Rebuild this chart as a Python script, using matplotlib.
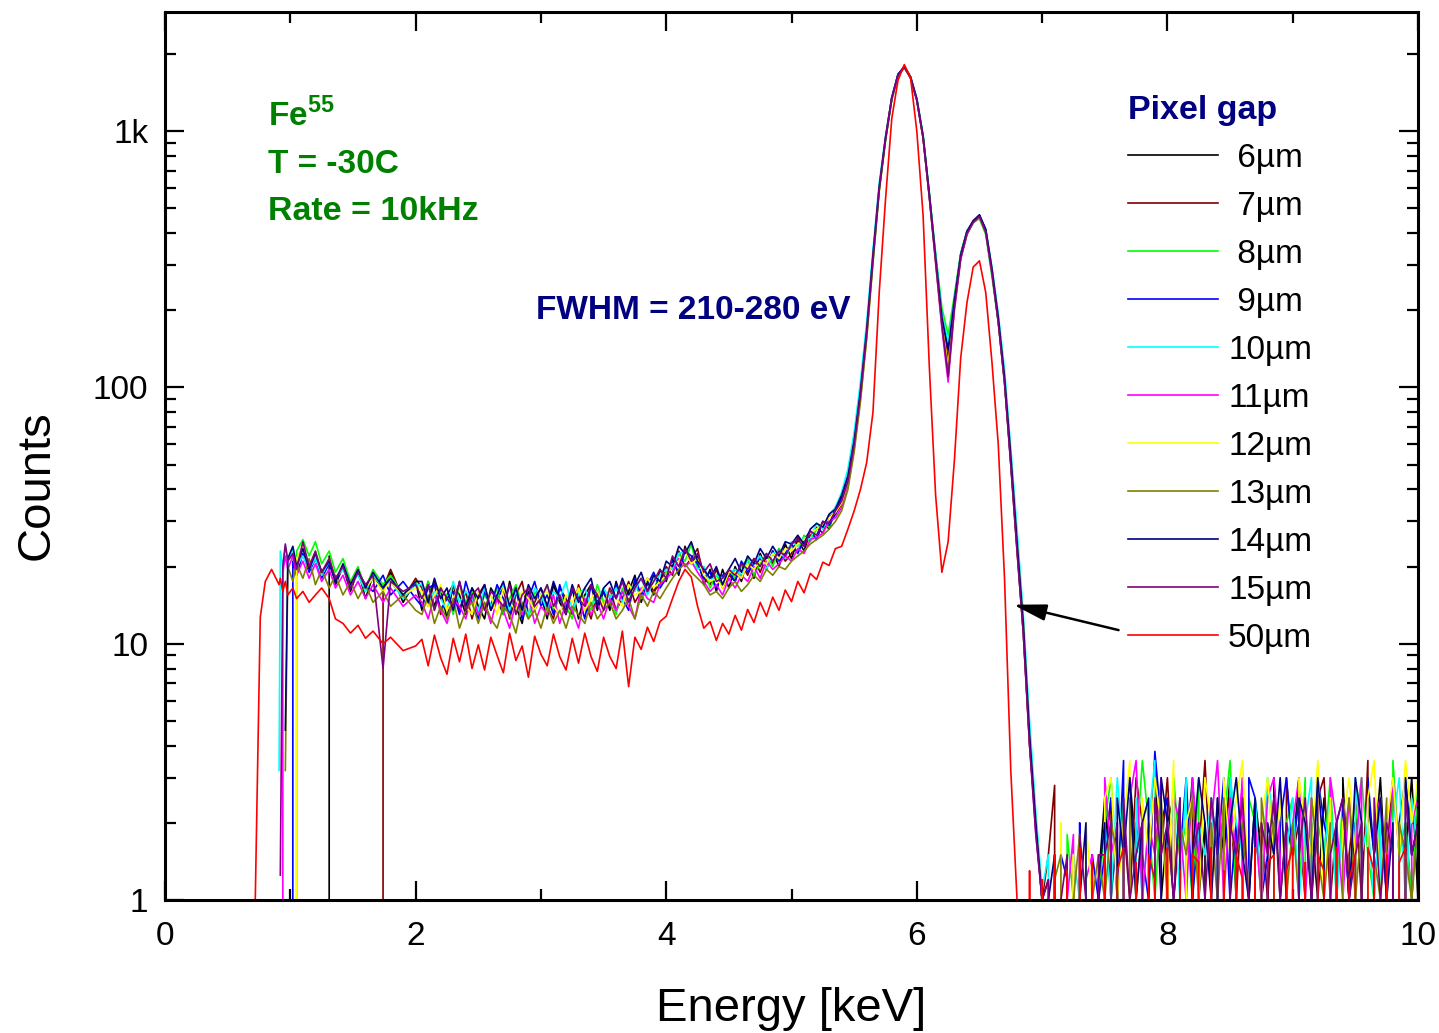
import numpy as np
import matplotlib
matplotlib.use("Agg")
import matplotlib.pyplot as plt
from matplotlib import ticker

nan = float("nan")

# energy channels (keV), denser where the spectra change quickly
energy_kev = [
    0.70, 0.72, 0.76, 0.80, 0.85, 0.91, 0.92, 0.94, 0.96, 0.98,
    1.02, 1.05, 1.10, 1.15, 1.20, 1.25, 1.31, 1.36, 1.42, 1.48,
    1.54, 1.60, 1.66, 1.74, 1.80, 1.90, 2.00,
    2.05, 2.10, 2.15, 2.20, 2.25, 2.30, 2.35, 2.40, 2.45, 2.50,
    2.55, 2.60, 2.65, 2.70, 2.75, 2.80, 2.85, 2.90, 2.95, 3.00,
    3.05, 3.10, 3.15, 3.20, 3.25, 3.30, 3.35, 3.40, 3.45, 3.50,
    3.55, 3.60, 3.65, 3.70, 3.75, 3.80, 3.85, 3.90, 3.95, 4.00,
    4.05, 4.10, 4.15, 4.20, 4.25, 4.30, 4.35, 4.40, 4.45, 4.50,
    4.55, 4.60, 4.65, 4.70, 4.75, 4.80, 4.85, 4.90, 4.95, 5.00,
    5.05, 5.10, 5.15, 5.20, 5.25, 5.30, 5.35, 5.40,
    5.45, 5.50, 5.55, 5.60, 5.65, 5.70, 5.75, 5.80, 5.85, 5.90,
    5.95, 6.00, 6.05, 6.10, 6.15, 6.20, 6.25, 6.30, 6.35, 6.40,
    6.45, 6.50, 6.55, 6.60, 6.65, 6.70, 6.75, 6.80, 6.85, 6.90,
    6.95, 7.00,
    7.05, 7.10, 7.15, 7.20, 7.25, 7.30, 7.35, 7.40, 7.45,
    7.50, 7.55, 7.60, 7.65, 7.70, 7.75, 7.80, 7.85, 7.90, 7.95,
    8.00, 8.05, 8.10, 8.15, 8.20, 8.25, 8.30, 8.35, 8.40, 8.45,
    8.50, 8.55, 8.60, 8.65, 8.70, 8.75, 8.80, 8.85, 8.90, 8.95,
    9.00, 9.05, 9.10, 9.15, 9.20, 9.25, 9.30, 9.35, 9.40, 9.45,
    9.50, 9.55, 9.60, 9.65, 9.70, 9.75, 9.80, 9.85, 9.90, 9.95,
    10.00,
]

gap_6um = [
    0, 0, 0, 0, 0, 0, 0, 0, 0, 0,
    0, 0, 0, 0, 0, 0, 22, 17, 20, 16,
    19.5, 15, 18.5, 16, 19, 14.5, 17.5,
    13.5, 17.5, 14, 16.5, 12.5, 17, 15.5, 13, 16.5, 14,
    12.5, 16.5, 15, 13, 17.5, 14, 12, 16, 13.5, 15.5,
    12.5, 17, 14.5, 13, 16.5, 12.5, 15.5, 17, 13.5, 16,
    13.5, 17.5, 14.5, 16, 18.5, 14.5, 17.5, 15.5, 19.5, 17.5,
    21.5, 18.5, 24, 20.5, 22, 17, 19.5, 16, 19.5, 16.5,
    20, 17.5, 21.5, 18, 22.5, 19.5, 23, 20, 24.5, 21.5,
    25.5, 23, 27.5, 25.5, 30, 28, 34, 37,
    44, 61, 96, 168, 325, 600, 930, 1340, 1660, 1790,
    1630, 1330, 950, 560, 320, 185, 125, 215, 325, 400,
    440, 470, 410, 285, 185, 108, 52, 24, 11.5, 4.2,
    1.9, 1.0,
    1.2, 0, 1.5, 0, 1.3, 0, 1.8, 0, 1.2,
    2.5, 1, 2, 0, 3, 1.5, 2, 0, 3.5, 1,
    2, 2.5, 0, 1.5, 3, 1, 2, 0, 2.5, 1.5,
    3, 0, 2, 1, 2.5, 1.5, 0, 3, 1, 2,
    1.5, 3, 0, 2, 1, 2.5, 1.5, 0, 3, 1,
    2, 0, 2.5, 1.5, 3, 1, 0, 2, 1.5, 3,
    1,
]

gap_7um = [
    0, 0, 0, 0, 0, 0, 0, 0, 0, 0,
    0, 0, 0, 0, 0, 0, 0, 0, 0, 0,
    0, 0, 0, 16.5, 19.5, 15, 18,
    16.5, 14, 17.5, 13, 15.5, 17, 13.5, 16, 12.5, 15.5,
    17, 13.5, 15, 16.5, 12.5, 15.5, 17.5, 13, 14.5, 16.5,
    14, 12.5, 16.5, 15, 13, 17, 14.5, 12.5, 16, 14,
    16.5, 13.5, 15, 17.5, 14.5, 16, 18, 16, 17, 20,
    18.5, 23, 20, 21.5, 23.5, 18, 17, 19.5, 16.5, 18.5,
    17.5, 20.5, 18.5, 21.5, 19, 22, 20.5, 23.5, 21, 22.5,
    26, 24, 26.5, 28.5, 27, 31.5, 32, 35,
    42, 59, 93, 162, 318, 590, 925, 1330, 1650, 1770,
    1610, 1320, 940, 555, 315, 180, 130, 210, 320, 395,
    445, 462, 405, 280, 180, 105, 50, 23, 11, 4.0,
    2.0, 1.0,
    1.5, 2.8, 0, 1.5, 0, 1.2, 0, 1.5, 0,
    1.5, 2.5, 0, 2, 1, 3, 2, 0, 2.5, 1.5,
    3, 1, 2, 0, 2.5, 1.5, 3.5, 1, 0, 2,
    2.5, 1, 3, 0, 1.5, 2, 1, 2.5, 0, 3,
    1.5, 2, 1, 0, 2.5, 3, 1, 2, 0, 1.5,
    2.5, 1, 3.5, 0, 2, 1.5, 3, 0, 2, 1,
    2.5,
]

gap_8um = [
    0, 0, 0, 0, 0, 0, 0, 0, 0, 0,
    0, 23, 25.5, 22, 25, 20.5, 23, 19, 21.5, 17.5,
    20, 16.5, 19.5, 17, 18.5, 15.5, 17.5,
    15, 17.5, 13.5, 16, 15.5, 13, 17, 14.5, 16, 13,
    15.5, 14, 16.5, 13, 15, 17, 14, 12.5, 16, 14.5,
    17, 13.5, 15.5, 14, 12.5, 16.5, 15, 13.5, 17, 14.5,
    15.5, 13, 16.5, 14.5, 17.5, 15, 16, 18.5, 16.5, 19,
    20, 22.5, 21, 24.5, 19.5, 20, 16.5, 18.5, 17, 19.5,
    18, 20, 21.5, 18.5, 20.5, 22.5, 20, 23.5, 22, 24,
    23, 26.5, 25, 28, 29.5, 28.5, 33, 35.5,
    41, 58, 90, 158, 310, 585, 915, 1320, 1640, 1770,
    1625, 1340, 965, 575, 335, 205, 160, 230, 335, 410,
    440, 455, 395, 270, 180, 105, 52, 24, 11, 4.3,
    1.9, 1.0,
    0, 1.2, 0, 1.8, 1.0, 0, 1.5, 0, 1.0,
    2, 3, 1, 2.5, 0, 1.5, 3.5, 2, 1, 2.5,
    0, 3, 1.5, 2, 1, 3, 0, 2.5, 1.5, 2,
    3.5, 1, 0, 2.5, 2, 1, 3, 1.5, 0, 2,
    2.5, 1, 3, 0, 2, 1.5, 3, 1, 2.5, 0,
    2, 3, 1.5, 1, 2.5, 0, 3.5, 1.5, 2, 1,
    3,
]

gap_9um = [
    0, 0, 0, 0, 0, 0, 0, 0, 0, 0,
    21, 18.5, 22.5, 19, 21.5, 18, 20.5, 17.5, 20, 16.5,
    19, 17, 16, 18.5, 15.5, 17.5, 15,
    14, 16.5, 17, 13.5, 15, 16, 13, 17.5, 14.5, 12.5,
    16, 14, 17, 15, 13, 16.5, 12.5, 15, 17.5, 14,
    15.5, 13, 17, 14, 16, 15.5, 12.5, 17, 14.5, 16,
    14, 17, 15, 13.5, 18, 15.5, 17, 19, 16.5, 18,
    21, 19, 23, 22, 20.5, 18, 19, 16.5, 18.5, 19,
    17.5, 21, 19, 20.5, 21.5, 19.5, 23, 21, 22.5, 24.5,
    22.5, 25.5, 27.5, 25.5, 30, 29, 32, 38,
    45, 62, 97, 170, 330, 610, 940, 1350, 1670, 1780,
    1620, 1330, 955, 565, 325, 190, 145, 220, 330, 405,
    445, 468, 412, 288, 188, 110, 54, 25, 12, 4.4,
    2.0, 1.0,
    1.0, 0, 1.5, 1.2, 0, 2.0, 0, 1.5, 1.0,
    1.5, 2.5, 1, 3.5, 0, 2, 1.5, 1, 3.8, 2,
    2.5, 0, 1.5, 3, 1, 2, 0, 2.5, 1.5, 3,
    1, 2, 0, 3, 2.5, 1, 1.5, 0, 2, 3,
    1.5, 2.5, 0, 1, 3, 2, 1.5, 0, 2.5, 1,
    2, 0, 3, 1.5, 2.5, 1, 0, 2, 3, 1.5,
    2,
]

gap_10um = [
    nan, nan, nan, nan, nan, 3.2, 23, 20, 24, 21,
    23.5, 20, 22, 19.5, 21.5, 18.5, 21, 18, 19.5, 17,
    18.5, 16, 18.5, 16.5, 17.5, 15, 17,
    17, 14.5, 16, 15, 13.5, 17.5, 14.5, 16, 15, 13.5,
    16.5, 14, 15.5, 17, 13.5, 16, 14.5, 13, 16.5, 15.5,
    13.5, 16, 15, 17.5, 13.5, 15.5, 16.5, 14, 15, 16.5,
    15, 16.5, 14.5, 17, 16, 18, 15.5, 17.5, 18.5, 19.5,
    19.5, 22.5, 23, 21, 19.5, 20, 17.5, 18.5, 18, 19,
    19.5, 18.5, 21, 20.5, 22, 19.5, 22.5, 23, 21.5, 25,
    24, 26, 25.5, 29.5, 28, 32, 34, 39,
    48, 67, 105, 180, 345, 630, 960, 1360, 1660, 1770,
    1630, 1350, 970, 570, 330, 192, 150, 218, 325, 400,
    438, 460, 415, 295, 195, 118, 58, 28, 13, 5.0,
    2.2, 1.1,
    1.5, 0, 1.0, 0, 1.5, 1.0, 0, 1.3, 0,
    2, 1, 3, 1.5, 0, 2.5, 1, 2, 3.5, 0,
    1.5, 2.5, 1, 3, 0, 2, 1.5, 2.5, 1, 0,
    3, 2, 1.5, 0, 2.5, 1, 3, 2, 0, 1.5,
    2.5, 1, 2, 3, 0, 1.5, 2.5, 1, 2, 0,
    3, 1.5, 2, 1, 2.5, 0, 2, 3, 1, 2.5,
    1.5,
]

gap_11um = [
    0, 0, 0, 0, 0, 0, 0, 19, 22, 19.5,
    22, 18.5, 21, 18, 20.5, 17.5, 19.5, 16.5, 18.5, 15.5,
    17.5, 15, 17, 14.5, 16.5, 14, 15.5,
    14.5, 12.5, 15.5, 13.5, 12, 15, 14, 12.5, 15.5, 13,
    14.5, 12, 15, 13.5, 11.5, 14.5, 13, 15.5, 12, 14,
    13, 15.5, 12, 14.5, 13.5, 11.5, 15, 13, 14.5, 12.5,
    15, 13.5, 16, 14, 12.5, 16.5, 15, 14.5, 17, 18,
    19, 21.5, 20, 21, 19, 17.5, 16, 17, 15.5, 18,
    16.5, 18.5, 17.5, 20, 18, 21, 19.5, 20.5, 22, 21,
    23.5, 22.5, 25.5, 26, 27, 30, 31, 34,
    42, 58, 92, 160, 315, 595, 935, 1345, 1655, 1780,
    1615, 1320, 945, 550, 305, 170, 105, 200, 315, 395,
    440, 462, 402, 278, 182, 106, 51, 24, 11, 4.1,
    1.8, 1.0,
    0, 1.5, 0, 1.0, 1.8, 0, 1.2, 1.5, 0,
    3, 1.5, 2, 0, 2.5, 3.5, 1, 2, 1.5, 3,
    0, 2.5, 2, 1, 3, 1.5, 0, 2, 3.5, 1,
    2.5, 1.5, 3, 0, 2, 1, 2.5, 3, 1.5, 0,
    2, 3, 1, 2.5, 1.5, 0, 3, 2, 1, 2.5,
    1.5, 3, 0, 2, 2.5, 1, 3, 1.5, 0, 2,
    2.5,
]

gap_12um = [
    0, 0, 0, 0, 0, 0, 0, 0, 0, 0,
    0, 21.5, 24, 20, 23, 19, 21.5, 18, 20, 17,
    19.5, 16.5, 18, 16, 17.5, 15.5, 16.5,
    16, 14, 15.5, 17, 13.5, 15, 16.5, 14, 13, 16,
    14, 15.5, 13, 16.5, 14.5, 13.5, 16, 15, 13.5, 15.5,
    16, 14, 13, 15.5, 14.5, 16.5, 13.5, 15, 16, 14,
    16.5, 15, 14, 17, 15.5, 16, 18, 16.5, 17.5, 18.5,
    20.5, 21, 23, 20.5, 21.5, 18.5, 17.5, 18, 16.5, 19,
    19, 18, 20.5, 19.5, 21, 20.5, 22.5, 21.5, 23.5, 23,
    24.5, 25.5, 27, 28, 29, 31, 32.5, 35.5,
    43, 60, 94, 164, 320, 598, 935, 1345, 1650, 1775,
    1625, 1330, 950, 560, 315, 180, 120, 212, 325, 402,
    442, 466, 408, 286, 186, 109, 53, 25, 12, 4.3,
    2.0, 1.0,
    1.0, 0, 2.0, 0, 1.5, 0, 2.0, 1.0, 0,
    2.5, 3, 1, 2, 3.5, 0, 2.5, 1.5, 3, 2,
    1, 3.5, 0, 2, 2.5, 1, 3, 2, 0, 3,
    1.5, 2.5, 3.5, 1, 0, 2, 3, 1.5, 2.5, 1,
    0, 3, 2, 1.5, 3.5, 1, 2.5, 0, 2, 3,
    1.5, 0, 2.5, 3.5, 1, 2, 3, 1.5, 3.5, 2,
    3,
]

gap_13um = [
    nan, nan, nan, nan, nan, nan, nan, nan, 3.2, 20,
    17.5, 20.5, 18, 21.5, 17, 19.5, 16.5, 18.5, 15.5, 17.5,
    15, 17, 14.5, 16, 14, 15.5, 13.5,
    13, 15.5, 12, 14, 12.5, 15, 11.5, 13.5, 14.5, 12,
    14.5, 12.5, 11.5, 14, 13, 11, 14.5, 12.5, 13.5, 11.5,
    14, 12, 13.5, 11.5, 14, 13, 12, 14.5, 12.5, 13.5,
    14.5, 12.5, 13.5, 15, 12.5, 15.5, 14, 16, 15, 16.5,
    18, 19.5, 20.5, 19, 18, 17, 15.5, 16, 15, 16.5,
    17.5, 16, 17, 18.5, 17.5, 19.5, 18.5, 20, 19.5, 21,
    22, 23, 24.5, 25.5, 26.5, 28, 30, 33,
    40, 56, 88, 155, 305, 585, 925, 1335, 1650, 1775,
    1620, 1325, 945, 555, 310, 175, 115, 205, 320, 398,
    440, 463, 405, 282, 182, 107, 52, 24, 11.5, 4.2,
    1.9, 1.0,
    0, 1.2, 1.5, 0, 1.0, 1.8, 0, 1.0, 1.5,
    1, 2, 1.5, 0, 2.5, 1, 2, 0, 1.5, 2.5,
    1, 0, 2, 1.5, 2.5, 1, 0, 2, 1, 2.5,
    0, 1.5, 2, 1, 0, 2.5, 1.5, 2, 0, 1,
    2, 1, 0, 2.5, 1.5, 1, 2, 0, 1.5, 2.5,
    1, 2, 0, 1.5, 1, 2.5, 0, 2, 1.5, 1,
    2,
]

gap_14um = [
    nan, nan, nan, nan, nan, nan, nan, nan, 4.6, 21.5,
    24, 20, 23.5, 19.5, 22.5, 19, 21, 17.5, 20.5, 17,
    19.5, 16.5, 19, 16.5, 18, 15.5, 17.5,
    17.5, 14.5, 18, 15, 16.5, 13.5, 17.5, 14, 16.5, 15,
    17, 13.5, 15.5, 17.5, 14, 16.5, 13.5, 17, 15, 16.5,
    14, 17.5, 15, 13.5, 17, 14.5, 16.5, 18, 14, 16.5,
    17.5, 15, 18, 15.5, 17, 19, 16, 18.5, 17.5, 21,
    20, 24, 22.5, 25, 21, 19.5, 18, 20, 17, 19.5,
    21.5, 19, 22, 20.5, 23.5, 21.5, 24, 22, 25, 24.5,
    26.5, 24.5, 28, 29.5, 28.5, 32, 33.5, 38,
    45, 62, 97, 168, 328, 605, 940, 1350, 1665, 1785,
    1630, 1335, 955, 568, 322, 188, 140, 218, 328, 406,
    448, 472, 415, 290, 188, 110, 54, 25, 12, 4.4,
    2.0, 1.0,
    1.0, 1.5, 0, 1.2, 0, 1.0, 2.0, 0, 1.2,
    2, 0, 2.5, 1.5, 3, 1, 2, 2.5, 0, 3,
    2, 1, 2.5, 0, 1.5, 3, 2, 1, 2.5, 0,
    2, 3, 1.5, 1, 2.5, 0, 2, 1.5, 3, 1,
    0, 2.5, 2, 1, 3, 1.5, 0, 2, 2.5, 1,
    3, 2, 0, 1.5, 2.5, 1, 2, 0, 3, 1.5,
    2,
]

gap_15um = [
    nan, nan, nan, nan, nan, nan, 1.25, 20, 24.5, 21,
    22.5, 19.5, 25, 20, 23, 19, 21.5, 18, 20, 16.5,
    19, 17, 18.5, 8, 17.5, 16, 17,
    15, 17, 13.5, 16.5, 15, 14, 17.5, 13.5, 15.5, 16.5,
    13.5, 16, 15, 14, 17, 13, 15.5, 16.5, 14, 15,
    17, 14, 15.5, 13, 16.5, 15, 14, 17, 15.5, 13.5,
    16.5, 15, 17.5, 14.5, 16.5, 18, 16, 17.5, 19.5, 18,
    22, 20, 23.5, 21, 22.5, 19, 20.5, 17.5, 18, 19.5,
    18.5, 20.5, 19.5, 21.5, 20, 22.5, 21, 23, 22, 24.5,
    25.5, 24, 27.5, 26.5, 30, 29.5, 33, 36,
    43, 60, 94, 163, 320, 598, 935, 1345, 1655, 1780,
    1620, 1325, 948, 558, 312, 176, 110, 205, 320, 400,
    442, 465, 405, 280, 180, 104, 50, 23, 11, 4.0,
    1.8, 1.0,
    1.2, 0, 1.0, 1.5, 0, 1.8, 1.0, 0, 1.5,
    1.5, 2, 0, 2.5, 1, 1.5, 2, 0, 2.5, 1.5,
    2, 1, 2.5, 0, 1.5, 2, 1, 2.5, 1.5, 0,
    2, 1.5, 2.5, 1, 0, 2, 1.5, 2.5, 1, 2,
    0, 1.5, 2.5, 1, 2, 0, 1.5, 2, 2.5, 1,
    1.5, 2, 0, 2.5, 1, 2, 1.5, 0, 2.5, 1.5,
    2,
]

gap_50um = [
    0, 1.0, 12.7, 17.5, 19.5, 17, 18, 16, 17.5, 15.5,
    16.5, 15, 16, 14.5, 15.5, 16.5, 15, 12.5, 12, 11,
    11.8, 10.5, 11.2, 10, 10.6, 9.4, 9.8,
    10.4, 8.2, 10.8, 8.8, 7.6, 10.5, 8.5, 10.9, 8.0, 9.9,
    7.9, 10.6, 9.0, 7.7, 11.0, 8.6, 9.8, 7.4, 10.7, 9.1,
    8.2, 10.9, 8.9, 7.9, 10.5, 8.4, 11.0, 8.9, 7.8, 10.6,
    8.9, 8.0, 11.2, 6.8, 10.6, 9.5, 11.6, 10.2, 12.2, 12.8,
    15.0, 17.5, 19.5, 18.2, 14.0, 11.5, 12.2, 10.3, 12.0, 10.9,
    12.9, 11.3, 13.6, 12.1, 14.5, 12.8, 15.2, 13.5, 16.2, 14.6,
    17.5, 15.8, 18.8, 17.8, 20.8, 20.2, 23.5, 24,
    28, 33, 40, 51, 80, 235, 540, 1120, 1580, 1820,
    1620, 1000, 470, 120, 38, 19, 25, 52, 130, 214,
    295, 312, 235, 125, 60, 18, 3.2, 1.0, 0, 1.3,
    0, 1.2,
    0, 1.5, 0, 1.3, 0, 1.6, 0, 1.4, 0,
    1.5, 0, 1.3, 1.6, 0, 1.4, 0, 1.5, 1.2, 0,
    1.6, 0, 1.3, 0, 1.5, 1.4, 0, 1.6, 0, 1.3,
    0, 1.5, 1.2, 0, 1.6, 0, 1.4, 1.5, 0, 1.3,
    1.6, 0, 1.4, 0, 1.5, 1.3, 0, 1.6, 0, 1.2,
    1.5, 0, 1.6, 1.3, 0, 1.5, 0, 1.4, 1.6, 0,
    1.5,
]

SERIES = [gap_6um, gap_7um, gap_8um, gap_9um, gap_10um, gap_11um,
          gap_12um, gap_13um, gap_14um, gap_15um, gap_50um]
# leading space = half a digit, so the labels line up centred like the original
LABELS = [" 6\u00b5m", " 7\u00b5m", " 8\u00b5m", " 9\u00b5m", "10\u00b5m", "11\u00b5m",
          "12\u00b5m", "13\u00b5m", "14\u00b5m", "15\u00b5m", "50\u00b5m"]
COLORS = ["#000000", "#800000", "#00ff00", "#0000ff", "#00ffff", "#ff00ff",
          "#ffff00", "#808000", "#000080", "#800080", "#ff0000"]
GREEN = "#008000"
NAVY = "#000080"

plt.rcParams["font.family"] = ["Liberation Sans", "DejaVu Sans"]
plt.rcParams["mathtext.fontset"] = "custom"
plt.rcParams["mathtext.rm"] = "Liberation Sans"
plt.rcParams["mathtext.bf"] = "Liberation Sans:bold"

fig = plt.figure(figsize=(14.39, 10.33), dpi=100)
ax = fig.add_axes([0.1147, 0.1288, 0.8707, 0.8596])

for counts, label, color in zip(SERIES, LABELS, COLORS):
    ax.plot(energy_kev, counts, color=color, lw=1.2, label=label)

ax.set_yscale("log", nonpositive="clip")
ax.set_xlim(0, 10)
ax.set_ylim(1, 2920)

ax.yaxis.set_major_locator(ticker.FixedLocator([1, 10, 100, 1000]))
ax.yaxis.set_major_formatter(ticker.FixedFormatter(["1", "10", "100", "1k"]))
ax.yaxis.set_minor_locator(ticker.LogLocator(base=10, subs=np.arange(2, 10), numticks=20))
ax.yaxis.set_minor_formatter(ticker.NullFormatter())
ax.xaxis.set_major_locator(ticker.MultipleLocator(2))
ax.xaxis.set_minor_locator(ticker.MultipleLocator(1))
ax.tick_params(which="both", direction="in", top=True, right=True, width=1.6)
ax.tick_params(which="major", length=14, labelsize=24)
ax.tick_params(which="minor", length=8)
ax.tick_params(axis="y", pad=12)
ax.tick_params(axis="x", pad=15)
for side in ax.spines.values():
    side.set_linewidth(2.2)

ax.set_xlabel("Energy [keV]", fontsize=34)
ax.set_ylabel("Counts", fontsize=34)
ax.xaxis.set_label_coords(0.5, -0.098)
ax.yaxis.set_label_coords(-0.085, 0.467)

ax.text(0.0822, 0.8716, r"$\mathbf{Fe}^{\mathbf{55}}$", transform=ax.transAxes,
        fontsize=24, color=GREEN, va="baseline")
ax.text(0.0822, 0.8187, "T = -30C", transform=ax.transAxes,
        fontsize=24, color=GREEN, fontweight="bold", va="baseline")
ax.text(0.0822, 0.7658, "Rate = 10kHz", transform=ax.transAxes,
        fontsize=24.5, color=GREEN, fontweight="bold", va="baseline")
ax.text(0.4214, 0.6543, "FWHM = 210-280 eV", transform=ax.transAxes,
        fontsize=24, color=NAVY, fontweight="bold", ha="center", va="baseline")

ax.annotate("", xy=(6.77, 14.2), xytext=(7.61, 11.3),
            arrowprops=dict(arrowstyle="-|>,head_length=2,head_width=0.5",
                            color="black", lw=1.8, shrinkA=0, shrinkB=0))

leg = ax.legend(loc="upper left", bbox_to_anchor=(0.7590, 0.9200), frameon=False,
                fontsize=24, title="Pixel gap",
                title_fontproperties={"weight": "bold", "size": 24.5},
                handlelength=2.7, handletextpad=0.3, labelspacing=0.51,
                borderpad=0.36, borderaxespad=0)
leg.get_title().set_color(NAVY)
leg._legend_box.align = "left"

fig.savefig("out.png", dpi=100)
